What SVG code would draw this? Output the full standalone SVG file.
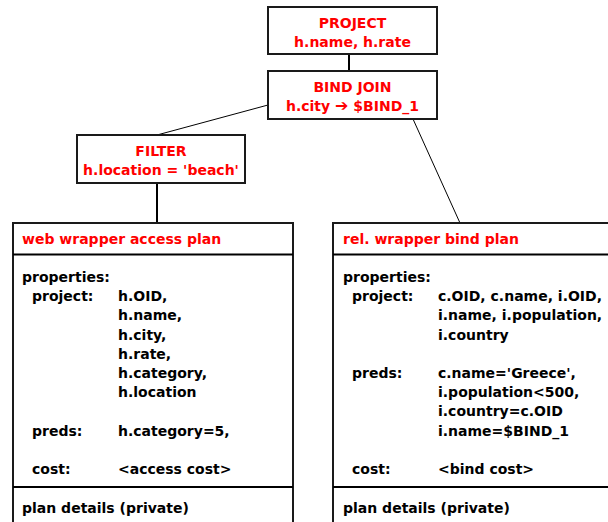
<svg xmlns="http://www.w3.org/2000/svg" width="608" height="522" viewBox="0 0 608 522">
<style>
text { font-family: "DejaVu Sans", "Liberation Sans", sans-serif; font-weight: bold; font-size: 14px; }
.op { fill: #ff0000; text-anchor: middle; }
.hd { fill: #ff0000; }
.tx { fill: #000000; }
.box { fill: #ffffff; stroke: #1a1a1a; stroke-width: 2; }
.sep { stroke: #000000; stroke-width: 2; }
.thin { stroke: #000000; stroke-width: 1; fill: none; }
.thick { stroke: #000000; stroke-width: 2; fill: none; }
.arw { font-size: 16px; }
</style>
<rect width="608" height="522" fill="#ffffff"/>
<g id="connectors">
  <line class="thick" x1="349" y1="54" x2="349" y2="71"/>
  <line class="thin" x1="157" y1="135" x2="268" y2="105"/>
  <line class="thick" x1="157" y1="183" x2="157" y2="223"/>
  <line class="thin" x1="413" y1="119" x2="460" y2="223"/>
</g>
<g id="project">
  <rect class="box" x="268" y="7" width="169" height="47"/>
  <text class="op" x="352.5" y="28">PROJECT</text>
  <text class="op" x="352.5" y="47">h.name, h.rate</text>
</g>
<g id="bindjoin">
  <rect class="box" x="268" y="71" width="169" height="48"/>
  <text class="op" x="352.5" y="92">BIND JOIN</text>
  <text class="op" x="352.5" y="111">h.city <tspan class="arw">➔</tspan> $BIND_1</text>
</g>
<g id="filter">
  <rect class="box" x="77" y="135" width="168" height="48"/>
  <text class="op" x="161" y="156">FILTER</text>
  <text class="op" x="161" y="175">h.location = 'beach'</text>
</g>
<g id="webplan">
  <rect class="box" x="13" y="223" width="280" height="320"/>
  <line class="sep" x1="13" y1="254.5" x2="293" y2="254.5"/>
  <line class="sep" x1="13" y1="487" x2="293" y2="487"/>
  <text class="hd" x="22" y="243.5">web wrapper access plan</text>
  <text class="tx" x="22" y="282">properties:</text>
  <text class="tx" x="32" y="301.2">project:</text>
  <text class="tx" x="118" y="301.2">h.OID,</text>
  <text class="tx" x="118" y="320.4">h.name,</text>
  <text class="tx" x="118" y="339.6">h.city,</text>
  <text class="tx" x="118" y="358.8">h.rate,</text>
  <text class="tx" x="118" y="378">h.category,</text>
  <text class="tx" x="118" y="397.2">h.location</text>
  <text class="tx" x="32" y="435.6">preds:</text>
  <text class="tx" x="118" y="435.6">h.category=5,</text>
  <text class="tx" x="32" y="474">cost:</text>
  <text class="tx" x="118" y="474">&lt;access cost&gt;</text>
  <text class="tx" x="22" y="513">plan details (private)</text>
</g>
<g id="relplan">
  <rect class="box" x="333" y="223" width="300" height="320"/>
  <line class="sep" x1="333" y1="254.5" x2="620" y2="254.5"/>
  <line class="sep" x1="333" y1="487" x2="620" y2="487"/>
  <text class="hd" x="343" y="243.5">rel. wrapper bind plan</text>
  <text class="tx" x="343" y="282">properties:</text>
  <text class="tx" x="352" y="301.2">project:</text>
  <text class="tx" x="438" y="301.2">c.OID, c.name, i.OID,</text>
  <text class="tx" x="438" y="320.4">i.name, i.population,</text>
  <text class="tx" x="438" y="339.6">i.country</text>
  <text class="tx" x="352" y="378">preds:</text>
  <text class="tx" x="438" y="378">c.name='Greece',</text>
  <text class="tx" x="438" y="397.2">i.population&lt;500,</text>
  <text class="tx" x="438" y="416.4">i.country=c.OID</text>
  <text class="tx" x="438" y="435.6">i.name=$BIND_1</text>
  <text class="tx" x="352" y="474">cost:</text>
  <text class="tx" x="438" y="474">&lt;bind cost&gt;</text>
  <text class="tx" x="343" y="513">plan details (private)</text>
</g>
</svg>
